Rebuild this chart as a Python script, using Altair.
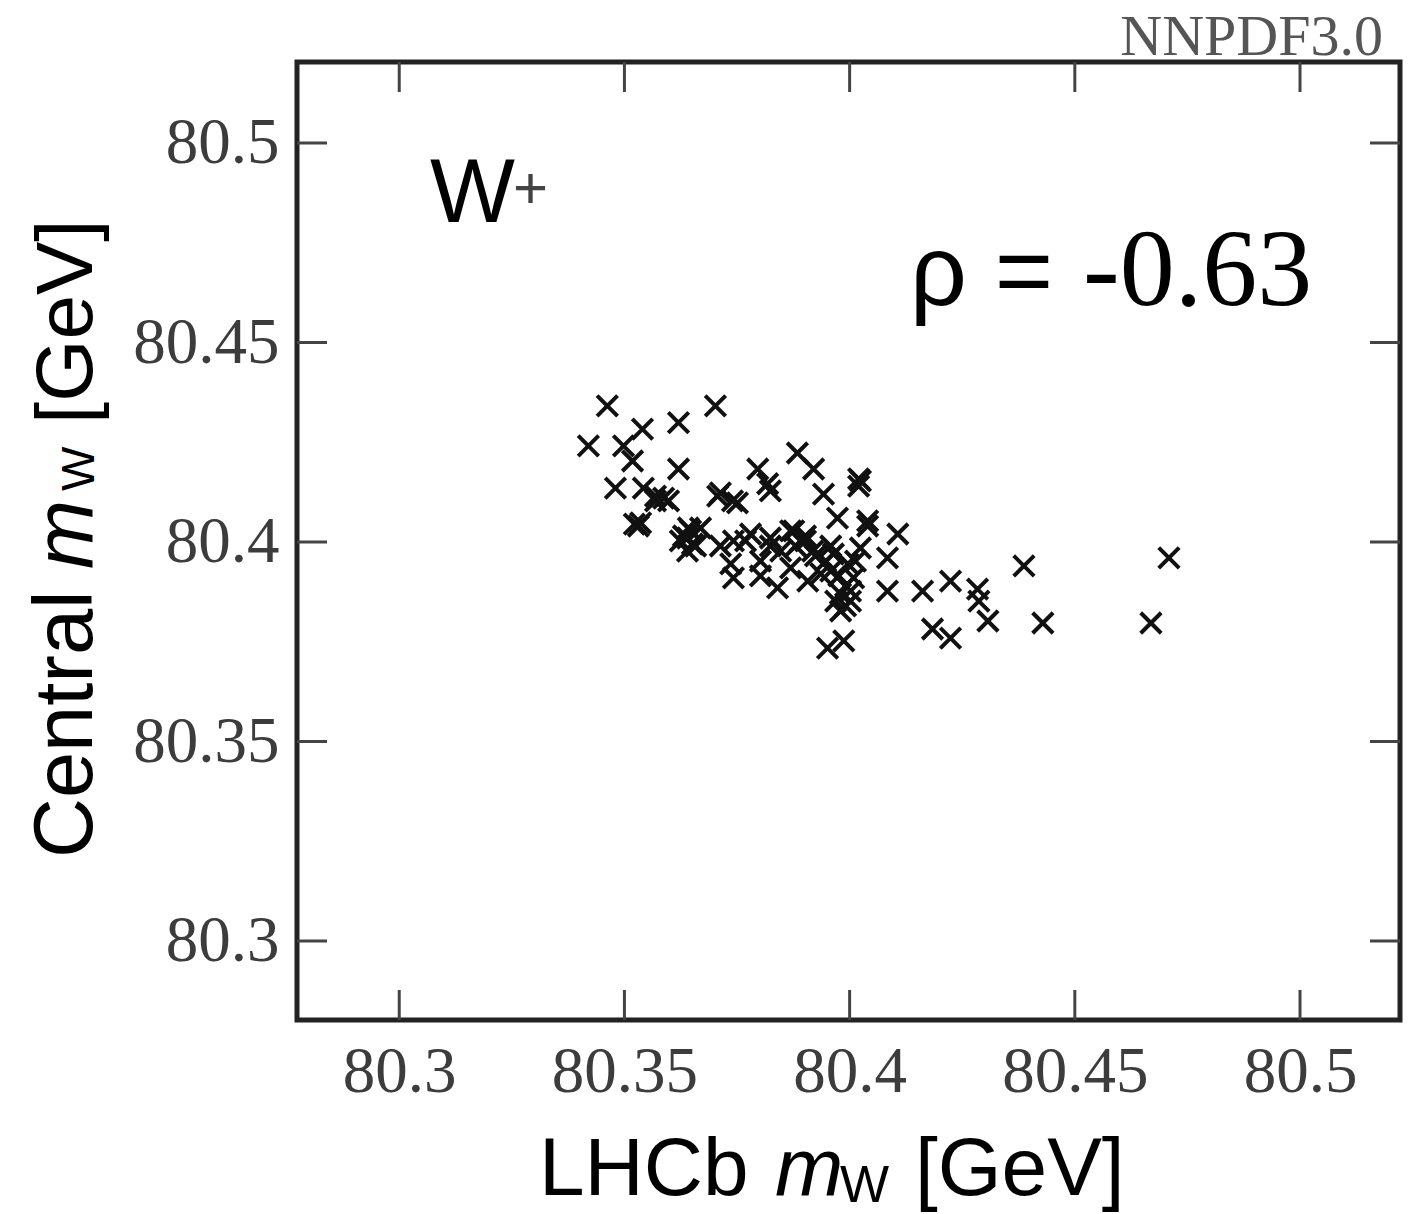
import altair as alt
import pandas as pd

# ---- data -------------------------------------------------------------------
lhcb_mw = [
    80.3420, 80.3462, 80.3702, 80.3620, 80.3540, 80.3498, 80.3518, 80.3620,
    80.3480, 80.3542, 80.3587, 80.3569, 80.3707, 80.3751, 80.3531, 80.3522,
    80.3642, 80.3640, 80.3631, 80.3651, 80.3640, 80.3742, 80.3742, 80.3796,
    80.3818, 80.3884, 80.3920, 80.4024, 80.4020, 80.3824, 80.3942, 80.3973,
    80.4040, 80.4107, 80.3669, 80.3780, 80.3824, 80.3876, 80.3891, 80.3902,
    80.3880, 80.3736, 80.3847, 80.3802, 80.3869, 80.3840, 80.3907, 80.3964,
    80.3996, 80.4009, 80.3980, 80.3980, 80.4084, 80.4084, 80.3951, 80.3987,
    80.3936, 80.4024, 80.3924, 80.3958, 80.3991, 80.4002, 80.3969, 80.4162,
    80.4224, 80.4284, 80.4287, 80.4307, 80.4184, 80.4224, 80.4387, 80.4429,
    80.4709, 80.4669,
    80.3569, 80.3598, 80.3647, 80.3624, 80.3658, 80.3536, 80.4020, 80.3902,
    80.3918, 80.3947, 80.3976, 80.4002, 80.3991, 80.4013, 80.3958, 80.3824,
    80.3869, 80.3769, 80.3713, 80.3802, 80.4040, 80.3740, 80.3713,
]
central_mw = [
    80.4241, 80.4341, 80.4341, 80.4299, 80.4283, 80.4241, 80.4203, 80.4183,
    80.4135, 80.4135, 80.4110, 80.4103, 80.4115, 80.4098, 80.4040, 80.4045,
    80.4035, 80.4010, 80.4015, 80.3995, 80.3977, 80.4003, 80.3910, 80.4183,
    80.4146, 80.4223, 80.4183, 80.4153, 80.4158, 80.4128, 80.4120, 80.4060,
    80.4053, 80.4020, 80.4035, 80.4020, 80.4010, 80.4028, 80.4003, 80.4015,
    80.3990, 80.3945, 80.3977, 80.3952, 80.3935, 80.3885, 80.3902, 80.3970,
    80.3945, 80.3910, 80.3870, 80.3827, 80.3960, 80.3877, 80.3734, 80.3752,
    80.3920, 80.3985, 80.3965, 80.3927, 80.3890, 80.3852, 80.3852, 80.3877,
    80.3902, 80.3882, 80.3852, 80.3802, 80.3782, 80.3759, 80.3940, 80.3797,
    80.3960, 80.3797,
    80.4115, 80.4103, 80.4028, 80.4003, 80.3990, 80.4048, 80.4140, 80.4003,
    80.3977, 80.3952, 80.3915, 80.3877, 80.3840, 80.3952, 80.3990, 80.3990,
    80.4028, 80.4003, 80.3990, 80.3915, 80.4040, 80.4103, 80.4123,
]
tick_values = [80.3, 80.35, 80.4, 80.45, 80.5]
x_domain = [80.2773, 80.5222]
y_domain = [80.2802, 80.5203]

# ---- layout -------------------------------------------------------------------
W, H = 1103, 958
TICK_LEN = 30

pts = pd.DataFrame({"lhcb": lhcb_mw, "central": central_mw})
ticks = pd.DataFrame({"v": tick_values})

xs = alt.Scale(domain=x_domain, nice=False, zero=False)
ys = alt.Scale(domain=y_domain, nice=False, zero=False)

serif = "Liberation Serif"
sans = "Liberation Sans"

x_axis = alt.Axis(values=tick_values, format="~g", title=None, grid=False,
                  domain=False, ticks=False, tickSize=0, labelFont=serif,
                  labelFontSize=65, labelColor="#3c3c3c", labelPadding=20,
                  labelFlush=False, labelOverlap=False)
y_axis = alt.Axis(values=tick_values, format="~g", title=None, grid=False,
                  domain=False, ticks=False, tickSize=0, labelFont=serif,
                  labelFontSize=65, labelColor="#3c3c3c", labelPadding=18,
                  labelFlush=False, labelOverlap=False)

points = alt.Chart(pts).mark_point(
    shape="M-1,-1L1,1M-1,1L1,-1", filled=False, size=420, strokeWidth=4,
    color="#111111", opacity=1,
).encode(
    x=alt.X("lhcb:Q", scale=xs, axis=x_axis),
    y=alt.Y("central:Q", scale=ys, axis=y_axis),
)

tick_style = dict(color="#444444", strokeWidth=3)
bottom_ticks = alt.Chart(ticks).mark_rule(**tick_style).encode(
    x=alt.X("v:Q", scale=xs, axis=x_axis), y=alt.value(H), y2=alt.value(H - TICK_LEN))
top_ticks = alt.Chart(ticks).mark_rule(**tick_style).encode(
    x=alt.X("v:Q", scale=xs, axis=x_axis), y=alt.value(0), y2=alt.value(TICK_LEN))
left_ticks = alt.Chart(ticks).mark_rule(**tick_style).encode(
    y=alt.Y("v:Q", scale=ys, axis=y_axis), x=alt.value(0), x2=alt.value(TICK_LEN))
right_ticks = alt.Chart(ticks).mark_rule(**tick_style).encode(
    y=alt.Y("v:Q", scale=ys, axis=y_axis), x=alt.value(W), x2=alt.value(W - TICK_LEN))


def label(text, x, y, size, font=sans, style="normal", color="#000000",
          align="left", angle=0):
    return alt.Chart(pd.DataFrame({"t": [text]})).mark_text(
        font=font, fontSize=size, fontStyle=style, color=color, align=align,
        baseline="alphabetic", angle=angle,
    ).encode(text="t:N", x=alt.value(x), y=alt.value(y))


texts = [
    # x-axis title
    label("LHCb", 242, 1133, 82),
    label("m", 478, 1133, 82, style="italic"),
    label("W", 543, 1140, 52),
    label("[GeV]", 618, 1133, 82),
    # y-axis title (rotated)
    label("Central", -205, 796, 83, angle=270),
    label("m", -205, 507, 83, style="italic", angle=270),
    label("W", -203, 429, 47, angle=270),
    label("[GeV]", -205, 362, 80, angle=270),
    # annotations
    label("W", 133, 160, 90),
    label("+", 216, 146, 60, color="#444444"),
    label("ρ =", 613, 243, 100),
    label("-0.63", 786, 243, 110, font=serif),
    label("NNPDF3.0", 1086, -7, 58, font=serif, color="#555555", align="right"),
]

chart = alt.layer(
    bottom_ticks, top_ticks, left_ticks, right_ticks, points, *texts
).properties(
    width=W, height=H,
    background="white",
    padding={"left": 297, "top": 62, "right": 8, "bottom": 194},
    autosize=alt.AutoSizeParams(type="none"),
).configure_view(
    stroke="#222222", strokeWidth=5,
)

chart.save("out.html", embed_options={"renderer": "svg", "actions": False})
